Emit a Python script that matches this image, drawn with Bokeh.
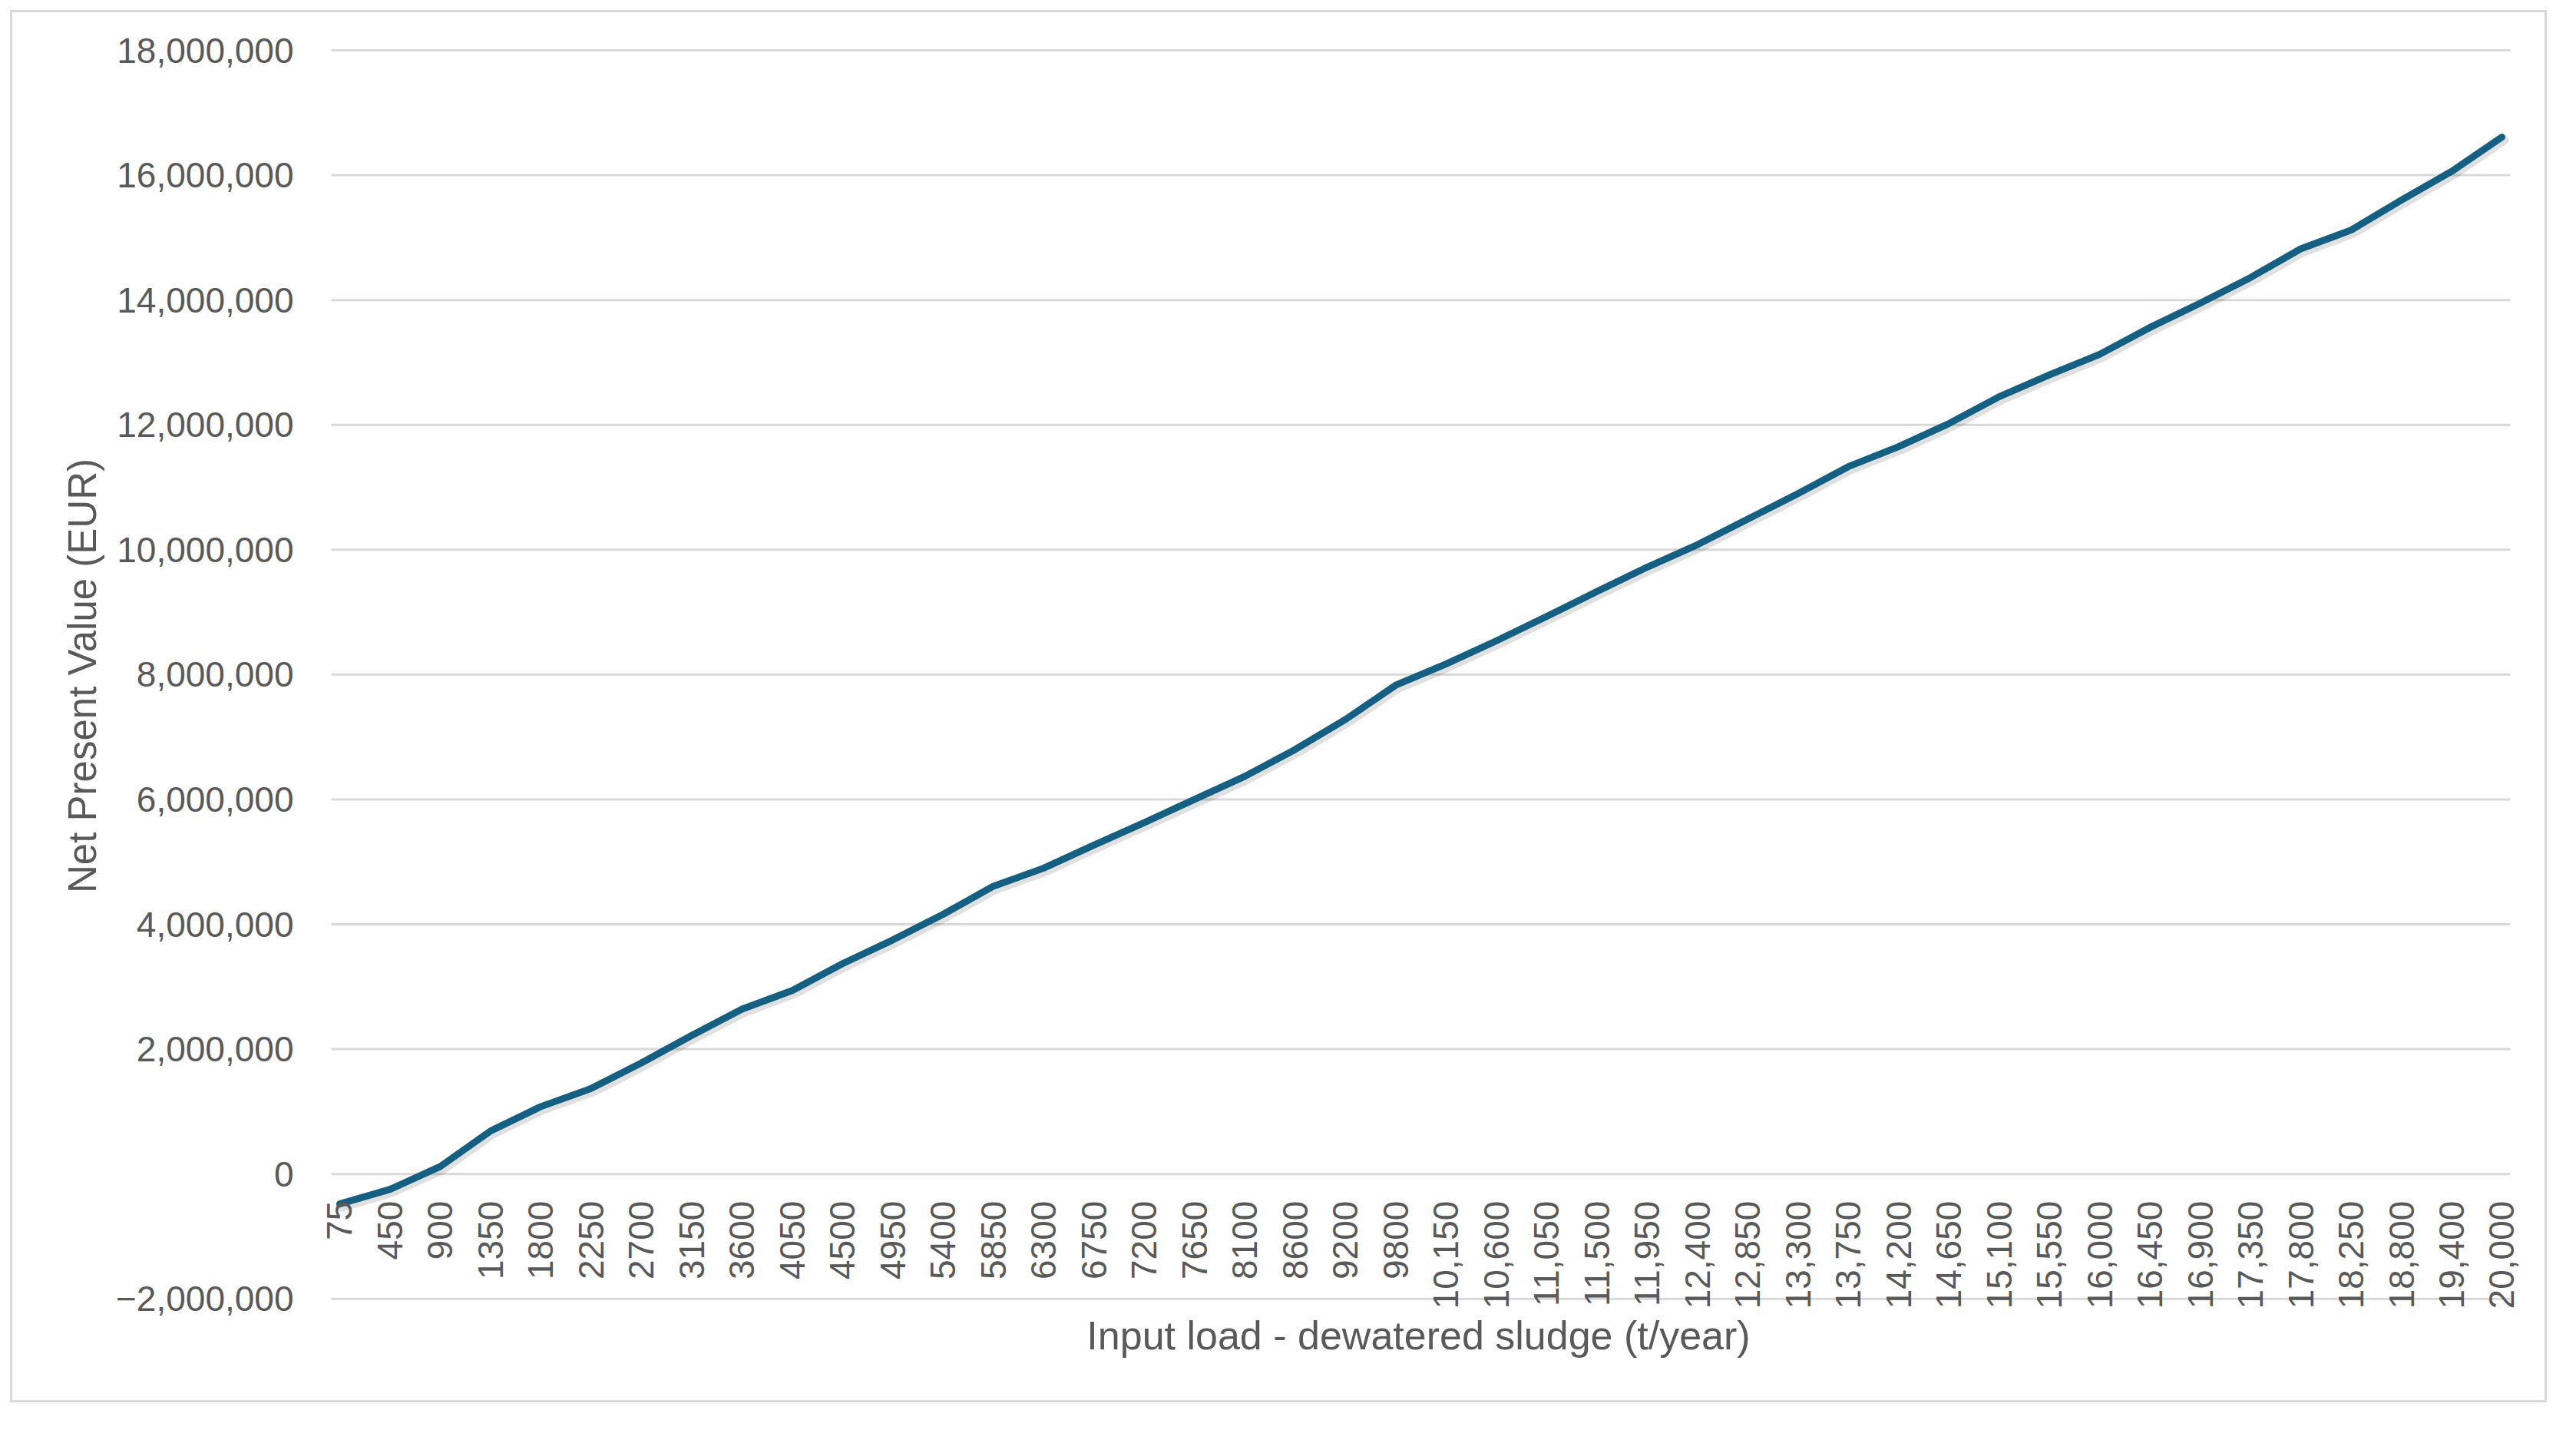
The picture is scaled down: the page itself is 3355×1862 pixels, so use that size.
import math
from bokeh.plotting import figure
from bokeh.models import Range1d, FixedTicker, ColumnDataSource, LabelSet
from bokeh.transform import dodge
from bokeh.core.properties import value
from bokeh.embed import file_html
from bokeh.resources import INLINE

# ---- data ----
loads = ["75", "450", "900", "1350", "1800", "2250", "2700", "3150", "3600", "4050",
         "4500", "4950", "5400", "5850", "6300", "6750", "7200", "7650", "8100", "8600",
         "9200", "9800", "10,150", "10,600", "11,050", "11,500", "11,950", "12,400",
         "12,850", "13,300", "13,750", "14,200", "14,650", "15,100", "15,550", "16,000",
         "16,450", "16,900", "17,350", "17,800", "18,250", "18,800", "19,400", "20,000"]

npv = [-480000, -245000, 120000, 690000, 1080000, 1370000, 1780000, 2220000, 2640000, 2940000,
       3370000, 3750000, 4160000, 4610000, 4900000, 5270000, 5630000, 6000000, 6370000, 6800000,
       7280000, 7830000, 8170000, 8540000, 8930000, 9330000, 9720000, 10080000,
       10490000, 10900000, 11330000, 11650000, 12020000, 12450000, 12800000, 13130000,
       13560000, 13950000, 14360000, 14820000, 15120000, 15600000, 16060000, 16610000]

y_ticks = [-2000000, 0, 2000000, 4000000, 6000000, 8000000, 10000000,
           12000000, 14000000, 16000000, 18000000]
y_tick_labels = ["\u22122,000,000", "0", "2,000,000", "4,000,000", "6,000,000", "8,000,000",
                 "10,000,000", "12,000,000", "14,000,000", "16,000,000", "18,000,000"]

x_title = "Input load - dewatered sludge (t/year)"
y_title = "Net Present Value (EUR)"

TEXT = "#595959"
GRID = "#D9D9D9"
LINE = "#156082"
FONT = "Liberation Sans"

n = len(loads)
idx = list(range(n))
source = ColumnDataSource(dict(x=idx, npv=npv, load=loads, zero=[0] * n))
grid_src = ColumnDataSource(dict(y=y_ticks))

# category band edges (Excel "between tick marks" style)
band_lo = -0.168
band_hi = n - 1 + 0.168

p = figure(width=3330, height=1839,
           x_range=Range1d(-0.7635, n - 1 + 0.672),
           y_range=Range1d(-2200000, 18160000),
           output_backend="svg", toolbar_location=None,
           min_border_left=376, min_border_right=44,
           min_border_top=36, min_border_bottom=148)
# chart-area frame: white gap, then a thin light-grey line (like Excel's chart border)
p.styles = {"border": "13px solid white", "padding": "3px",
            "box-shadow": "inset 0 0 0 3px #D9D9D9"}

p.background_fill_color = "white"
p.border_fill_color = "white"
p.outline_line_color = None
p.xgrid.visible = False
p.ygrid.visible = False

# horizontal gridlines over the category band
p.segment(x0=band_lo, x1=band_hi, y0="y", y1="y", source=grid_src,
          line_color=GRID, line_width=3)

# y axis
yax = p.yaxis[0]
yax.ticker = FixedTicker(ticks=y_ticks)
yax.major_label_overrides = dict(zip(y_ticks, y_tick_labels))
yax.axis_line_color = None
yax.major_tick_line_color = None
yax.minor_tick_line_color = None
yax.major_tick_out = 0
yax.major_tick_in = 0
yax.major_label_standoff = 10
yax.major_label_text_font = FONT
yax.major_label_text_font_size = "46px"
yax.major_label_text_color = TEXT
yax.axis_label = y_title
yax.axis_label_text_font = FONT
yax.axis_label_text_font_size = "51px"
yax.axis_label_text_font_style = "normal"
yax.axis_label_text_color = TEXT
yax.axis_label_standoff = 12

# x axis (title only; category labels drawn at y=0 like Excel)
xax = p.xaxis[0]
xax.ticker = FixedTicker(ticks=[])
xax.axis_line_color = None
xax.major_tick_line_color = None
xax.minor_tick_line_color = None
xax.major_tick_out = 0
xax.major_tick_in = 0
xax.major_label_standoff = 0
xax.major_label_text_font_size = "0px"
xax.axis_label = x_title
xax.axis_label_text_font = FONT
xax.axis_label_text_font_size = "52px"
xax.axis_label_text_font_style = "normal"
xax.axis_label_text_color = TEXT
xax.axis_label_standoff = 2

# shadow + line
p.line(x=dodge("x", 0.04), y=dodge("npv", -50000), source=source,
       line_color="black", line_alpha=0.12, line_width=12,
       line_join="round", line_cap="round")
p.line("x", "npv", source=source, line_color=LINE, line_width=9,
       line_join="round", line_cap="round")

labels = LabelSet(x="x", y="zero", text="load", source=source,
                  angle=math.pi / 2, text_align="right", text_baseline="middle",
                  y_offset=-35, text_font=value(FONT), text_font_size="46px",
                  text_color=TEXT)
p.add_layout(labels)

open("out.html", "w").write(file_html(p, INLINE))
